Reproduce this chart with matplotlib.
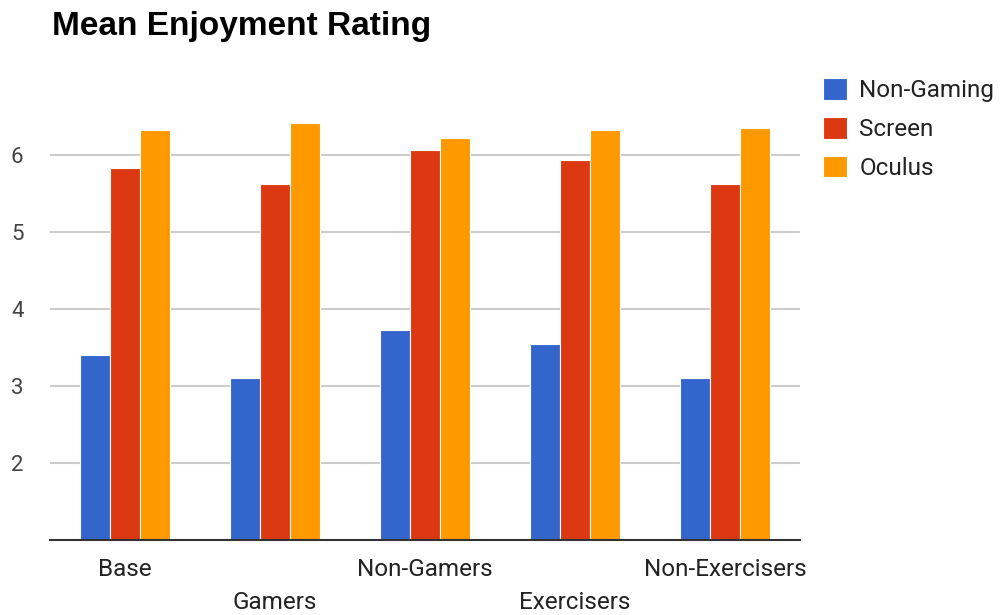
import numpy as np
import matplotlib
matplotlib.use("Agg")
import matplotlib.pyplot as plt

# Data
categories = ["Base", "Gamers", "Non-Gamers", "Exercisers", "Non-Exercisers"]
series_names = ["Non-Gaming", "Screen", "Oculus"]
non_gaming = [3.40, 3.11, 3.73, 3.54, 3.11]
screen = [5.83, 5.62, 6.06, 5.94, 5.62]
oculus = [6.32, 6.41, 6.22, 6.32, 6.35]
y_ticks = [2, 3, 4, 5, 6]

colors = ["#3366cc", "#dc3912", "#ff9900"]

plt.rcParams["font.family"] = ["Roboto", "DejaVu Sans"]

fig = plt.figure(figsize=(10, 6.15), dpi=100)
ax = fig.add_axes([50 / 1000, 75 / 615, 750 / 1000, 450 / 615])

x = np.arange(len(categories))
width = 0.2
for i, (vals, name) in enumerate(zip([non_gaming, screen, oculus], series_names)):
    ax.bar(x + (i - 1) * 0.203, np.array(vals) - 1, width=width, bottom=1,
           color=colors[i], edgecolor="white", linewidth=0.8, label=name, zorder=3)

ax.set_xlim(-0.5, len(categories) - 0.5)
ax.set_ylim(1, 1 + 450 / 77)

# Gridlines and baseline
ax.set_yticks(y_ticks)
ax.yaxis.grid(True, color="#cccccc", linewidth=1.5, zorder=0)
ax.tick_params(axis="y", length=0, pad=19, labelsize=16, labelcolor="#444444")
for s in ["top", "right", "left"]:
    ax.spines[s].set_visible(False)
ax.spines["bottom"].set_color("#333333")
ax.spines["bottom"].set_linewidth(1.5)
ax.spines["bottom"].set_zorder(4)

# Staggered category labels
ax.set_xticks(x[::2])
ax.set_xticklabels(categories[::2])
ax.set_xticks(x[1::2], minor=True)
ax.set_xticklabels(categories[1::2], minor=True)
ax.tick_params(axis="x", which="major", length=0, pad=13, labelsize=17.5, labelcolor="#222222")
ax.tick_params(axis="x", which="minor", length=0, pad=37, labelsize=17.5, labelcolor="#222222")

# Title
fig.text(52 / 1000, 1 - 35 / 615, "Mean Enjoyment Rating", fontsize=24, fontweight="bold",
         family=["Liberation Sans", "DejaVu Sans"], color="#000000", va="baseline")

# Legend
leg = fig.legend(loc="upper left", bbox_to_anchor=(823 / 1000, 1 - 78 / 615),
                 frameon=False, fontsize=17.5, handlelength=1.0, handleheight=1.0,
                 handletextpad=0.5, labelspacing=0.6, borderpad=0, borderaxespad=0)
for t in leg.get_texts():
    t.set_color("#222222")

plt.savefig("out.png", dpi=100)
